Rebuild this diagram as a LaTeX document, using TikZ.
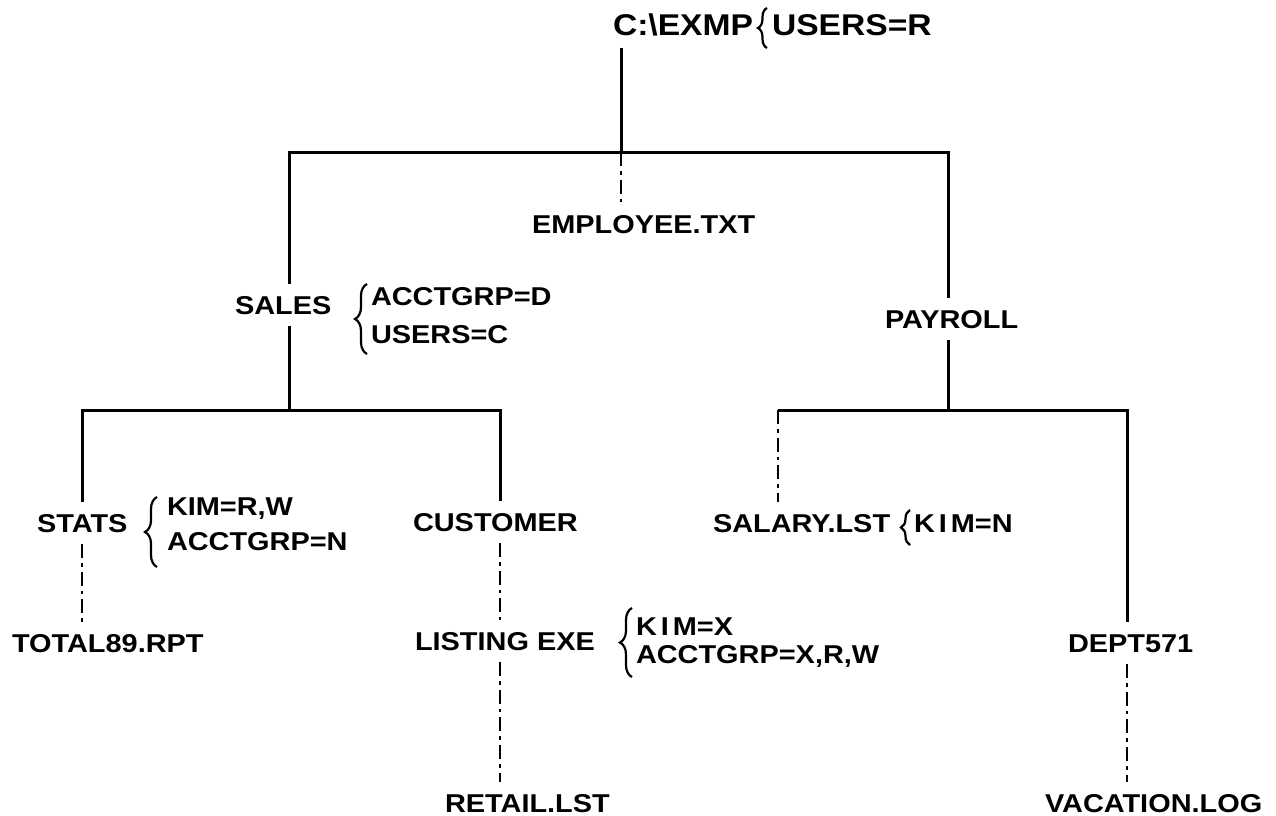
\documentclass[tikz,border=0pt]{standalone}
\usepackage{fontspec}
\setmainfont{Liberation Sans}[FakeStretch=1.12]
\usetikzlibrary{decorations.pathreplacing}

\begin{document}
\begin{tikzpicture}[x=0.5pt, y=-0.5pt,
  lbl/.style={anchor=base west, inner sep=0pt, outer xsep=0pt, outer ysep=6pt,
              font=\fontsize{12.9}{14}\selectfont\bfseries},
  big/.style={lbl, font=\fontsize{15}{17}\selectfont\bfseries},
  tree/.style={line width=1.5pt, line join=miter},
  link/.style={line width=1.4pt, dash pattern=on 7pt off 2.5pt on 1.8pt off 2.5pt},
  brc/.style={decorate, decoration={brace, amplitude=6pt}, line width=1.1pt},
  brcs/.style={decorate, decoration={brace, amplitude=4.5pt}, line width=1.1pt}]

\useasboundingbox (0,0) rectangle (1276,815);

% directory and file names
\node[big] (root)     at (613,35)  {C:\textbackslash EXMP};
\node[lbl] (employee) at (532,233) {EMPLOYEE.TXT};
\node[lbl] (sales)    at (235,314) {SALES};
\node[lbl] (payroll)  at (885,328) {PAYROLL};
\node[lbl] (stats)    at (37,532)  {STATS};
\node[lbl] (customer) at (413,531) {CUSTOMER};
\node[lbl] (total)    at (12,652)  {TOTAL89.RPT};
\node[lbl] (listing)  at (415,650) {LISTING EXE};
\node[lbl] (retail)   at (445,812) {RETAIL.LST};
\node[lbl] (salary)   at (713,532) {SALARY.LST};
\node[lbl] (dept)     at (1068,652) {DEPT571};
\node[lbl] (vacation) at (1045,812) {VACATION.LOG};

% access rights
\node[big] (rootusr)  at (772,35)  {USERS=R};
\node[lbl] (salesgrp) at (371,305) {ACCTGRP=D};
\node[lbl] (salesusr) at (371,343) {USERS=C};
\node[lbl] (statskim) at (167,515) {KIM=R,W};
\node[lbl] (statsgrp) at (167,550) {ACCTGRP=N};
\node[lbl] (listkim)  at (636,635) {K\kern2pt I\kern2pt M=X};
\node[lbl] (listgrp)  at (636,663) {ACCTGRP=X,R,W};
\node[lbl] (salkim)   at (914,532) {K\kern2pt I\kern2pt M=N};

% braces grouping the rights
\draw[brcs] (767,48)  -- (767,8);
\draw[brc]  (367,354) -- (367,284);
\draw[brc]  (157,567) -- (157,497);
\draw[brc]  (632,677) -- (632,608);
\draw[brcs] (910,545) -- (910,510);

% junctions of the tree
\coordinate (jroot) at (621,152);
\coordinate (jtl)   at (289,152);
\coordinate (jtr)   at (948,152);
\coordinate (jsl)   at (289,410);
\coordinate (jll)   at (82,410);
\coordinate (jlr)   at (500,410);
\coordinate (jpr)   at (948,410);
\coordinate (jrl)   at (778,410);
\coordinate (jrr)   at (1127,410);

% directories (solid)
\draw[tree] (root.south -| jroot) -- (jroot);
\draw[tree] (jtl |- sales.north) -- (jtl) -- (jtr) -- (jtr |- payroll.north);
\draw[tree] (jsl |- sales.south) -- (jsl);
\draw[tree] (jll |- stats.north) -- (jll) -- (jlr) -- (jlr |- customer.north);
\draw[tree] (jpr |- payroll.south) -- (jpr);
\draw[tree] (jrl) -- (jrr) -- (jrr |- dept.north);

% files (dash-dot)
\draw[link] (jroot) -- (jroot |- employee.north);
\draw[link] (jll |- stats.south) -- (jll |- total.north);
\draw[link] (jlr |- customer.south) -- (jlr |- listing.north);
\draw[link] (jlr |- listing.south) -- (jlr |- retail.north);
\draw[link] (jrl) -- (jrl |- salary.north);
\draw[link] (jrr |- dept.south) -- (jrr |- vacation.north);

\end{tikzpicture}
\end{document}
